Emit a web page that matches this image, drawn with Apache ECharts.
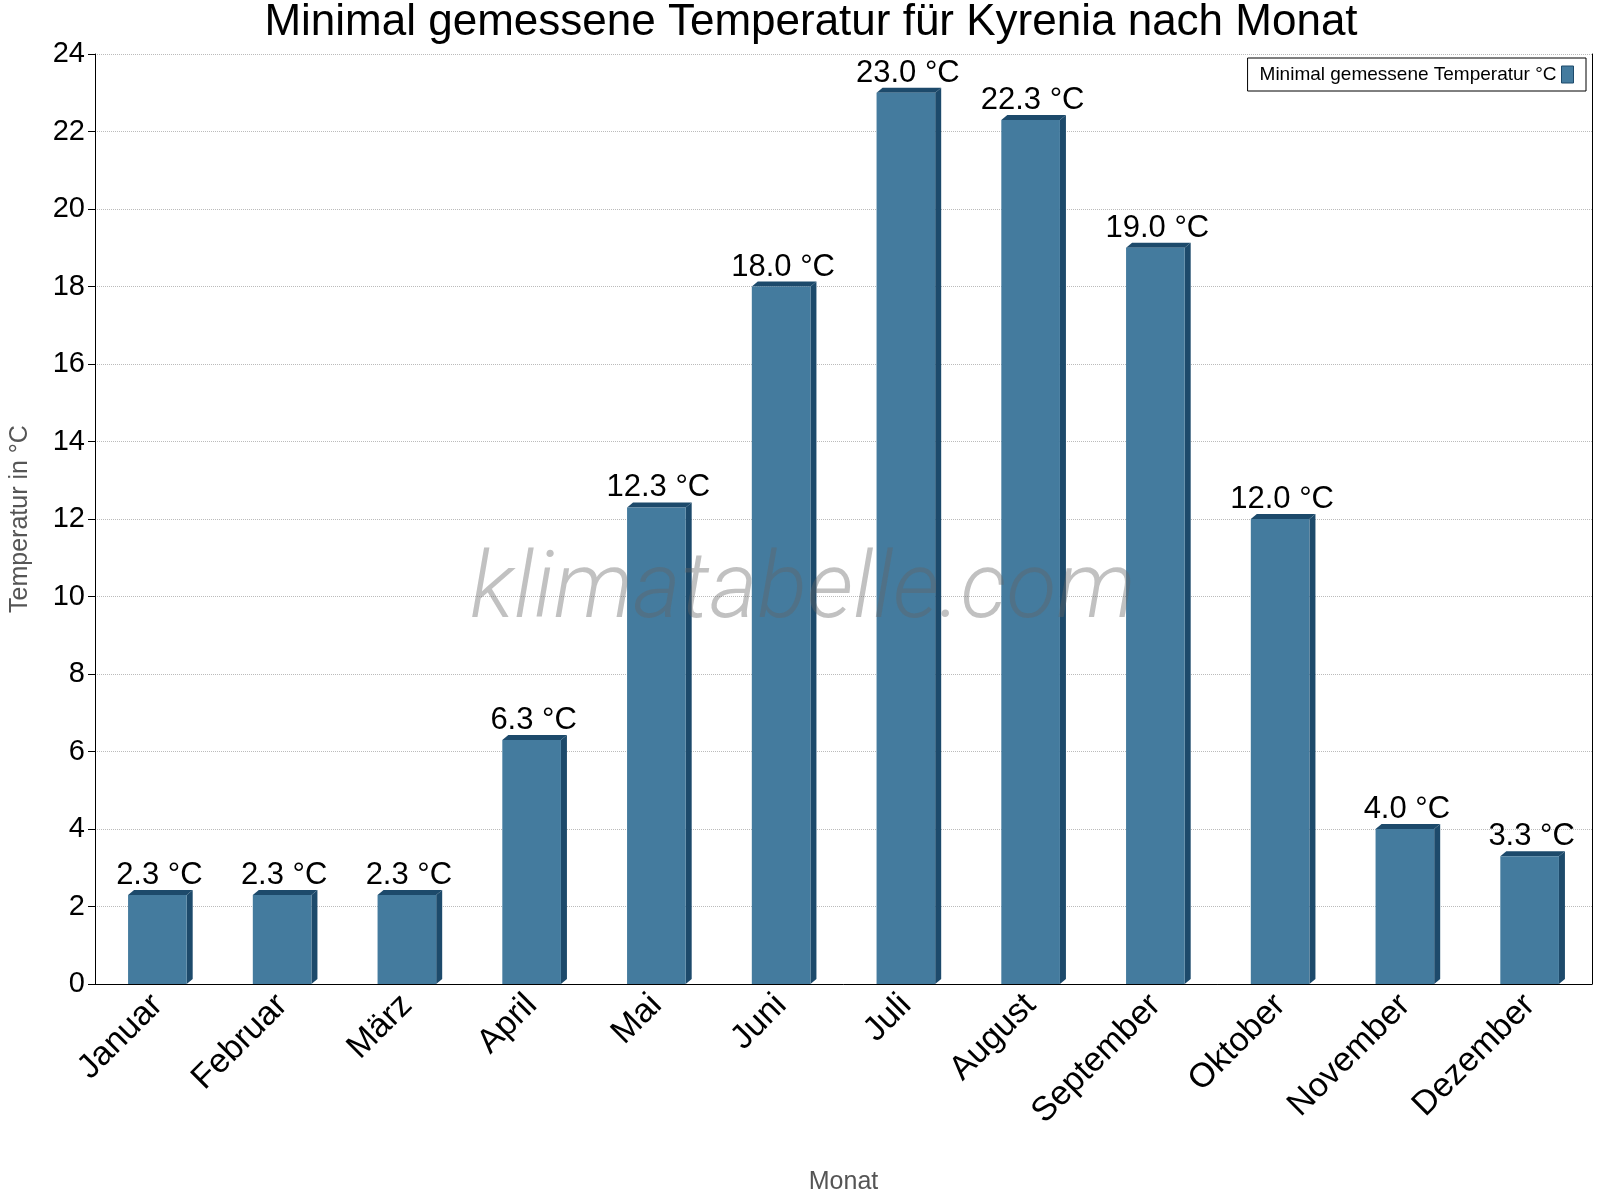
<!DOCTYPE html>
<html><head><meta charset="utf-8">
<script src="https://cdn.jsdelivr.net/npm/echarts@6/dist/echarts.min.js"></script>
<style>body{margin:0;background:#fff}#c{width:1600px;height:1200px}</style>
</head><body><div id="c"></div>
<script>
var months = ['Januar','Februar','März','April','Mai','Juni','Juli','August','September','Oktober','November','Dezember'];
var minTemp = [2.3, 2.3, 2.3, 6.3, 12.3, 18.0, 23.0, 22.3, 19.0, 12.0, 4.0, 3.3];
var yTicks = [0, 24, 2];

var chart = echarts.init(document.getElementById('c'));
// 3D-artige Säule: Vorderseite, rechte Seite, Deckel, Beschriftung
function renderBar(params, api) {
    var top = api.coord([api.value(0), api.value(1)]);
    var base = api.coord([api.value(0), 0]);
    var w = api.size([1, 0])[0] * 0.47;
    var x0 = top[0] - w / 2, d = 6, u = 5;
    return {
        type: 'group',
        children: [
            {type: 'polygon', shape: {points: [[x0 + w, top[1]], [x0 + w + d, top[1] - u], [x0 + w + d, base[1] - u], [x0 + w, base[1]]]}, style: {fill: '#1d4a6b'}},
            {type: 'polygon', shape: {points: [[x0, top[1]], [x0 + d, top[1] - u], [x0 + w + d, top[1] - u], [x0 + w, top[1]]]}, style: {fill: '#1d4a6b'}},
            {type: 'rect', shape: {x: x0, y: top[1], width: w, height: base[1] - top[1]}, style: {fill: '#447b9e'}},
            {type: 'text', style: {text: api.value(1).toFixed(1) + ' °C', x: top[0] + 2, y: top[1] - 4, align: 'center', verticalAlign: 'bottom', fontSize: 31, fill: '#000', fontFamily: 'Liberation Sans'}}
        ]
    };
}
var option = {
    animation: false,
    textStyle: {fontFamily: 'Liberation Sans'},
    title: {text: 'Minimal gemessene Temperatur für Kyrenia nach Monat', left: 806, textAlign: 'center', top: -4,
        textStyle: {fontSize: 44, fontWeight: 'normal', color: '#000'}},
    legend: {right: 14, top: 58, orient: 'horizontal', align: 'right', itemWidth: 12, itemHeight: 17,
        borderColor: '#000', borderWidth: 1, borderRadius: 0, padding: [7, 12, 7, 12],
        textStyle: {fontSize: 19, color: '#000'},
        data: [{name: 'Minimal gemessene Temperatur °C', icon: 'rect', itemStyle: {color: '#447b9e', borderColor: '#1d4a6b', borderWidth: 1}}]},
    graphic: [{type: 'text', left: 470, top: 548, z: 100, style: {text: 'klimatabelle.com', fontSize: 92, fontStyle: 'italic', fill: 'rgba(100,100,100,0.4)', fontFamily: 'Roboto', fontWeight: 300}}],
    grid: {left: 85, right: 8, top: 54, bottom: 200},
    xAxis: {type: 'category', data: months, name: 'Monat', nameLocation: 'middle', nameGap: 186,
        nameTextStyle: {fontSize: 25, color: '#555'},
        axisLine: {lineStyle: {color: '#000'}}, axisTick: {alignWithLabel: false, length: 7, lineStyle: {color: '#000'}},
        axisLabel: {rotate: 45, fontSize: 34, color: '#000', margin: 16, interval: 0}},
    yAxis: [{type: 'value', min: yTicks[0], max: yTicks[1], interval: yTicks[2],
        name: 'Temperatur in °C', nameLocation: 'middle', nameGap: 62, nameTextStyle: {fontSize: 25, color: '#555'},
        axisLine: {show: true, lineStyle: {color: '#000'}}, axisTick: {show: true, length: 7, lineStyle: {color: '#000'}},
        axisLabel: {fontSize: 29, color: '#000', margin: 10},
        splitLine: {lineStyle: {color: '#bbb', type: 'dotted'}}},
        {type: 'value', position: 'right', min: 0, max: 24, interval: 2,
        axisLine: {show: true, lineStyle: {color: '#000'}}, axisTick: {show: false}, axisLabel: {show: false}, splitLine: {show: false}}],
    series: [{name: 'Minimal gemessene Temperatur °C', type: 'custom', renderItem: renderBar,
        itemStyle: {color: '#447b9e'},
        data: minTemp.map(function (v, i) { return [i, v]; })}]
};
chart.setOption(option);
</script></body></html>
